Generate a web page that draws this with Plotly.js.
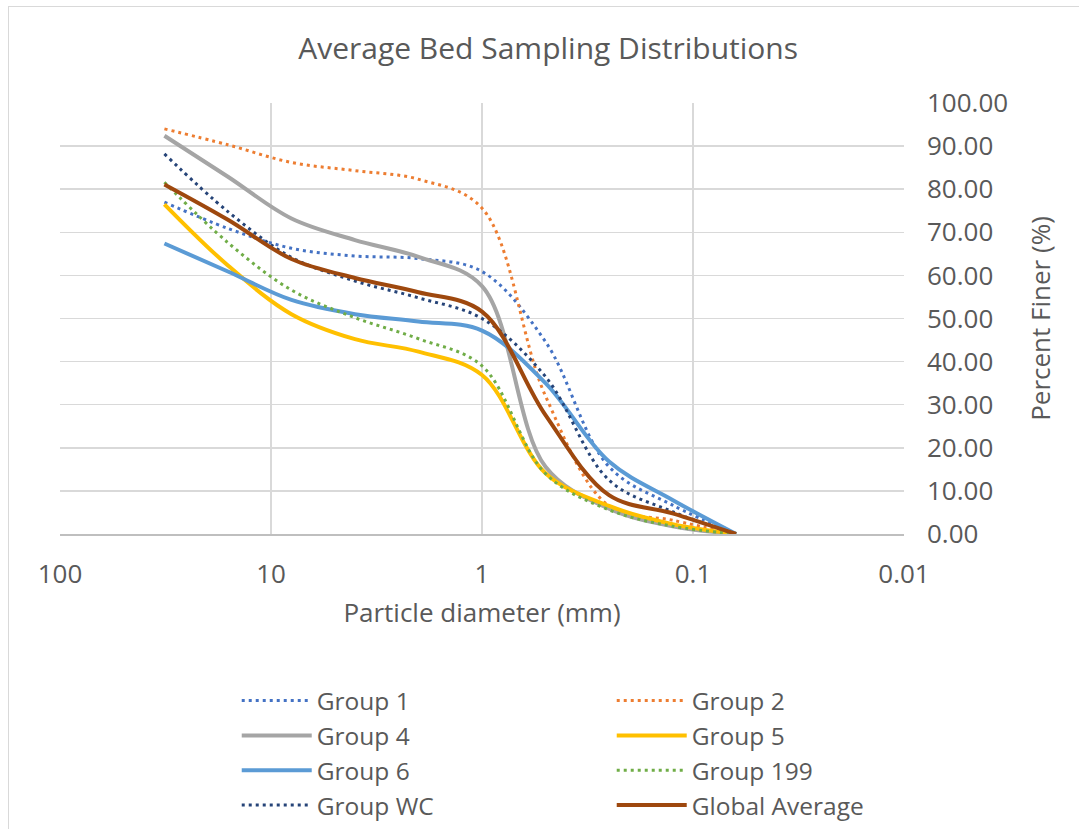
<!DOCTYPE html>
<html>
<head>
<meta charset="utf-8">
<script src="https://cdn.plot.ly/plotly-3.0.1.min.js"></script>
<style>
  html, body { margin: 0; padding: 0; background: #fff; }
  #chart { width: 1079px; height: 829px; }
  #frame { position: absolute; left: 8px; top: 6px; width: 1200px; height: 1000px;
           border: 1.5px solid #d9d9d9; pointer-events: none; }
</style>
</head>
<body>
<div id="chart"></div>
<div id="frame"></div>
<script>
// Particle diameters (mm), phi-scale sieve sizes
const diameters = [32, 16, 8, 4, 2, 1, 0.5, 0.25, 0.125, 0.0625];

// Percent finer for each group
const group1   = [77.0, 70.9, 66.3, 64.5, 63.9, 60.9, 44.6, 15.6, 6.7, 0];
const group2   = [94.0, 90.3, 86.2, 84.3, 82.3, 75.6, 32.0, 6.5, 3.2, 0];
const group4   = [92.4, 82.9, 73.2, 68.2, 64.3, 57.5, 15.6, 5.9, 1.8, 0];
const group5   = [76.5, 62.3, 51.0, 45.2, 42.3, 36.9, 14.1, 6.5, 2.3, 0];
const group6   = [67.4, 60.9, 54.3, 51.0, 49.3, 47.2, 35.0, 16.8, 7.9, 0];
const group199 = [81.6, 67.6, 56.6, 50.2, 45.3, 39.0, 14.0, 5.6, 1.8, 0];
const groupWC  = [88.2, 74.8, 64.2, 58.7, 54.8, 50.0, 36.5, 12.5, 5.2, 0];
const globalAvg= [81.1, 72.9, 63.8, 59.4, 56.1, 51.6, 27.6, 9.0, 4.8, 0];

const seriesNames = ["Group 1", "Group 2", "Group 4", "Group 5", "Group 6", "Group 199", "Group WC", "Global Average"];
const xTickVals = [100, 10, 1, 0.1, 0.01];
const xTickText = ["100", "10", "1", "0.1", "0.01"];

const seriesData = [group1, group2, group4, group5, group6, group199, groupWC, globalAvg];
const styles = [
  {color: "#4472C4", width: 3, dash: "3px,4px"},
  {color: "#ED7D31", width: 3, dash: "3px,4px"},
  {color: "#A5A5A5", width: 4, dash: "solid"},
  {color: "#FFC000", width: 4, dash: "solid"},
  {color: "#5B9BD5", width: 4, dash: "solid"},
  {color: "#70AD47", width: 3, dash: "3px,4px"},
  {color: "#264478", width: 3, dash: "3px,4px"},
  {color: "#9E480E", width: 4, dash: "solid"}
];

const traces = seriesData.map((ys, i) => ({
  type: "scatter",
  mode: "lines",
  name: seriesNames[i],
  x: diameters,
  y: ys,
  line: {color: styles[i].color, width: styles[i].width, dash: styles[i].dash, shape: "spline", smoothing: 1}
}));

const fontFam = "Open Sans, DejaVu Sans, sans-serif";
const txtColor = "#595959";

const layout = {
  width: 1079,
  height: 829,
  paper_bgcolor: "#ffffff",
  plot_bgcolor: "#ffffff",
  margin: {l: 60, r: 175, t: 103, b: 295},
  font: {family: fontFam, color: txtColor, size: 26},
  title: {
    text: "Average Bed Sampling Distributions",
    font: {family: fontFam, size: 30, color: txtColor},
    xref: "container", x: 0.508, xanchor: "center",
    yref: "container", y: 0.942, yanchor: "middle"
  },
  xaxis: {
    type: "log",
    autorange: false,
    range: [2, -2],
    tickvals: xTickVals,
    ticktext: xTickText,
    showgrid: true,
    gridcolor: "#d9d9d9",
    gridwidth: 1.5,
    zeroline: false,
    showline: true,
    linecolor: "#bfbfbf",
    linewidth: 1.5,
    ticks: "",
    ticklabelstandoff: 16,
    tickfont: {family: fontFam, size: 26, color: txtColor},
    title: {text: "Particle diameter (mm)", font: {family: fontFam, size: 26, color: txtColor}, standoff: 14}
  },
  yaxis: {
    side: "right",
    range: [0, 100],
    autorange: false,
    dtick: 10,
    tick0: 0,
    tickformat: ".2f",
    showgrid: true,
    gridcolor: "#d9d9d9",
    gridwidth: 1.5,
    zeroline: false,
    showline: false,
    ticks: "",
    ticklabelstandoff: 22,
    tickfont: {family: fontFam, size: 26, color: txtColor},
    title: {text: "Percent Finer (%)", font: {family: fontFam, size: 26, color: txtColor}, standoff: 24}
  },
  showlegend: true,
  legend: {
    orientation: "h",
    xref: "paper",
    x: 0.2094,
    xanchor: "left",
    yref: "container",
    y: 0.182,
    yanchor: "top",
    entrywidth: 290,
    entrywidthmode: "pixels",
    itemwidth: 70,
    font: {family: fontFam, size: 24.5, color: txtColor},
    bgcolor: "rgba(0,0,0,0)",
    traceorder: "normal"
  }
};

Plotly.newPlot("chart", traces, layout, {displayModeBar: false, staticPlot: true});
</script>
</body>
</html>
